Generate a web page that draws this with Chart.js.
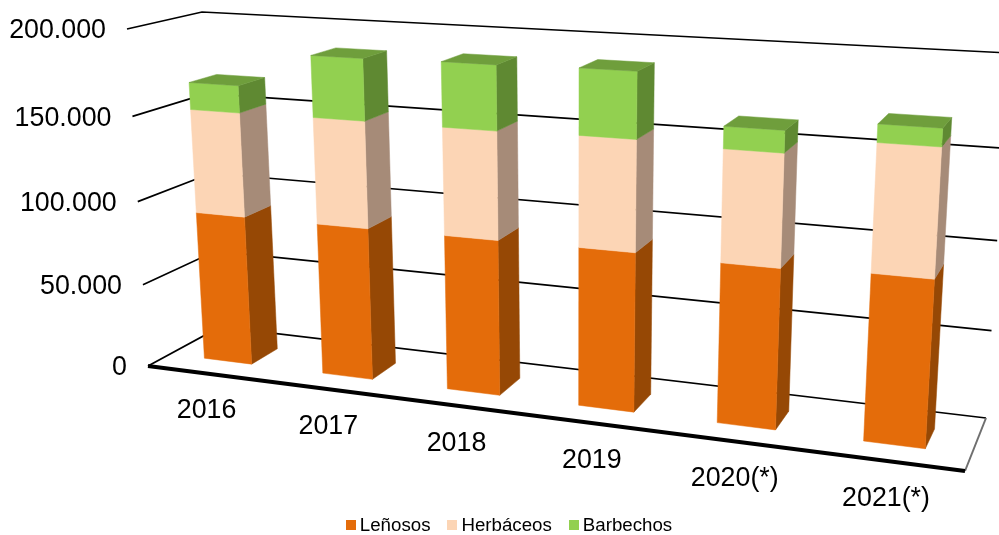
<!DOCTYPE html>
<html><head><meta charset="utf-8">
<style>html,body{margin:0;padding:0;background:#fff}canvas{display:block}</style>
<script src="https://cdn.jsdelivr.net/npm/chart.js@4"></script>
</head><body><canvas id="c" width="999" height="535"></canvas>
<script>
const categories = ['2016','2017','2018','2019','2020(*)','2021(*)'];
const lenosos   = [90000,90000,90300,90700,89600,91600];
const herbaceos = [61400,61900,61400,61900,61400,68300];
const barbechos = [15800,35200,36200,36300,11900,9500];
const yMax = 200000, yStep = 50000;

const palette = [
  {front:'#E46C0A',side:'#964805'},
  {front:'#FCD5B5',side:'#A68B78'},
  {front:'#92D050',side:'#5F8932',top:'#6F9E3C'}
];
// screen corners of the perspective box: front and back planes
const frontQuad = [[148,366],[965,471],[989,77],[127,29]];
const backQuad  = [[220,327],[986,418],[1009,53],[202,12]];
const barFront = 0.31, barBack = 0.69;

function homography(q){
  const [[x0,y0],[x1,y1],[x2,y2],[x3,y3]] = q;
  const dx1=x1-x2, dx2=x3-x2, sx=x0-x1+x2-x3, dy1=y1-y2, dy2=y3-y2, sy=y0-y1+y2-y3;
  const den=dx1*dy2-dx2*dy1;
  const g=(sx*dy2-dx2*sy)/den, h=(dx1*sy-sx*dy1)/den;
  const a=x1-x0+g*x1, b=x3-x0+h*x3, d=y1-y0+g*y1, e=y3-y0+h*y3;
  return (u,v)=>{const w=g*u+h*v+1;return [(a*u+b*v+x0)/w,(d*u+e*v+y0)/w];};
}
const hF=homography(frontQuad), hB=homography(backQuad);
function project(u,v,z){
  const p=hF(u,v), q=hB(u,v);
  return [p[0]+(q[0]-p[0])*z, p[1]+(q[1]-p[1])*z];
}
function poly(ctx,pts,color){
  ctx.beginPath();
  pts.forEach((p,i)=>i?ctx.lineTo(p[0],p[1]):ctx.moveTo(p[0],p[1]));
  ctx.closePath();
  ctx.fillStyle=color;ctx.strokeStyle=color;ctx.lineWidth=0.5;
  ctx.fill();ctx.stroke();
}
function line(ctx,pts,color,w){
  ctx.beginPath();
  pts.forEach((p,i)=>i?ctx.lineTo(p[0],p[1]):ctx.moveTo(p[0],p[1]));
  ctx.strokeStyle=color;ctx.lineWidth=w;ctx.lineJoin='miter';ctx.stroke();
}
const perspective3D = {
  id:'perspective3D',
  beforeDatasetsDraw(chart){
    const ctx=chart.ctx, xs=chart.scales.x, ys=chart.scales.y;
    const U=px=>(px-xs.left)/(xs.right-xs.left);
    const V=py=>(ys.bottom-py)/(ys.bottom-ys.top);
    ctx.save();
    // walls grid
    ys.ticks.forEach(t=>{
      const v=V(ys.getPixelForValue(t.value));
      line(ctx,[project(0,v,0),project(0,v,1),project(1,v,1)],'#000',1.7);
    });
    line(ctx,[project(1,0,1),project(1,0,0)],'#6f6f6f',2);
    line(ctx,[project(0,0,0),project(1,0,0)],'#000',4);
    // bars
    categories.forEach((c,j)=>{
      chart.data.datasets.forEach((ds,i)=>{
        const el=chart.getDatasetMeta(i).data[j];
        const u0=U(el.x-el.width/2), u1=U(el.x+el.width/2);
        const v0=V(el.base), v1=V(el.y), col=palette[i];
        poly(ctx,[project(u1,v0,barFront),project(u1,v0,barBack),project(u1,v1,barBack),project(u1,v1,barFront)],col.side);
        poly(ctx,[project(u0,v0,barFront),project(u1,v0,barFront),project(u1,v1,barFront),project(u0,v1,barFront)],col.front);
        if(col.top) poly(ctx,[project(u0,v1,barFront),project(u1,v1,barFront),project(u1,v1,barBack),project(u0,v1,barBack)],col.top);
      });
    });
    // tick labels
    ctx.fillStyle='#000';
    ctx.font='26.8px "Liberation Sans"';
    ctx.textBaseline='middle';
    ctx.textAlign='right';
    ys.ticks.forEach(t=>{
      const p=project(0,V(ys.getPixelForValue(t.value)),0);
      ctx.fillText(t.label,p[0]-21,p[1]+2);
    });
    ctx.textAlign='center';
    categories.forEach((c,j)=>{
      const p=project(U(xs.getPixelForValue(j)),0,0);
      ctx.fillText(c,p[0],p[1]+37.5);
    });
    // legend
    ctx.font='18.7px "Liberation Sans"';
    ctx.textAlign='left';
    const boxSize=10, boxGap=4, itemGap=17;
    const total=chart.data.datasets.reduce((s,d)=>s+boxSize+boxGap+ctx.measureText(d.label).width,0)+itemGap*2;
    let lx=(chart.width-total)/2+9.5;
    chart.data.datasets.forEach((d,i)=>{
      ctx.fillStyle=palette[i].front;
      ctx.fillRect(Math.round(lx),520,boxSize,boxSize);
      ctx.fillStyle='#000';
      ctx.fillText(d.label,lx+boxSize+boxGap,526);
      lx+=boxSize+boxGap+ctx.measureText(d.label).width+itemGap;
    });
    ctx.restore();
    return false;
  }
};
new Chart(document.getElementById('c'),{
  type:'bar',
  data:{labels:categories,datasets:[
    {label:'Leñosos',data:lenosos,backgroundColor:palette[0].front},
    {label:'Herbáceos',data:herbaceos,backgroundColor:palette[1].front},
    {label:'Barbechos',data:barbechos,backgroundColor:palette[2].front}
  ]},
  options:{
    responsive:false,animation:false,
    layout:{padding:{left:40,right:40,top:40,bottom:40}},
    datasets:{bar:{barPercentage:0.405,categoryPercentage:1}},
    plugins:{legend:{display:false},tooltip:{enabled:false}},
    scales:{
      x:{stacked:true,grid:{display:false},border:{display:false},ticks:{display:false}},
      y:{stacked:true,min:0,max:yMax,grid:{display:false},border:{display:false},
         ticks:{display:false,stepSize:yStep,callback:v=>v.toLocaleString('de-DE')}}
    }
  },
  plugins:[perspective3D]
});
</script></body></html>
